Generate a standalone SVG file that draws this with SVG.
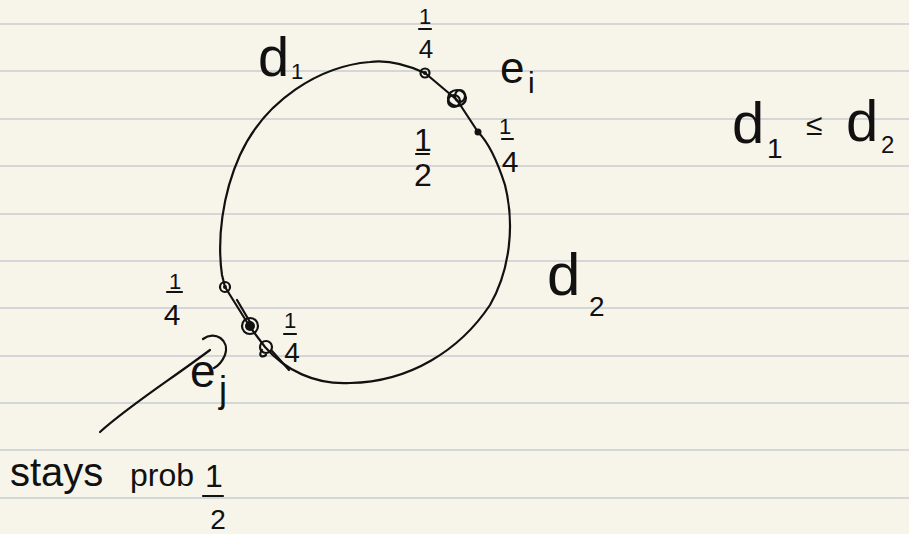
<svg xmlns="http://www.w3.org/2000/svg" width="909" height="534" viewBox="0 0 909 534">
<style>
.rule{stroke:#d4d6d8;stroke-width:2}
.ink{fill:none;stroke:#111;stroke-width:2.2;stroke-linecap:round;stroke-linejoin:round}
.t{font-family:"Liberation Sans","DejaVu Sans",sans-serif;fill:#111}
.c{text-anchor:middle}
</style>
<rect width="909" height="534" fill="#f7f5ea"/>
<g id="ruling">
<line class="rule" x1="0" y1="24" x2="909" y2="24"/>
<line class="rule" x1="0" y1="71" x2="909" y2="71"/>
<line class="rule" x1="0" y1="119" x2="909" y2="119"/>
<line class="rule" x1="0" y1="166" x2="909" y2="166"/>
<line class="rule" x1="0" y1="214" x2="909" y2="214"/>
<line class="rule" x1="0" y1="261" x2="909" y2="261"/>
<line class="rule" x1="0" y1="308" x2="909" y2="308"/>
<line class="rule" x1="0" y1="356" x2="909" y2="356"/>
<line class="rule" x1="0" y1="403" x2="909" y2="403"/>
<line class="rule" x1="0" y1="450" x2="909" y2="450"/>
<line class="rule" x1="0" y1="498" x2="909" y2="498"/>
</g>
<g id="loop">
<path class="ink" d="M425,73 C405,64 385,60 370,62 C320,66 265,100 240,155 C222,195 217,240 222,275 L225,287 L250,327 L265,347 C285,370 315,385 350,383 C410,382 460,350 490,305 C510,270 515,225 505,185 C497,160 488,142 478,132 L457,100 L425,73"/>
<path class="ink" d="M237,300 L250,322 M272,351 L289,370"/>
</g>
<g id="knots">
<circle cx="425" cy="73" r="4.5" class="ink"/>
<circle cx="425" cy="73" r="2" fill="#111"/>
<circle cx="478" cy="132" r="3.5" fill="#111"/>
<ellipse cx="457" cy="98" rx="9" ry="8" class="ink"/>
<ellipse cx="454" cy="101" rx="6" ry="6" class="ink"/>
<ellipse cx="460" cy="96" rx="5" ry="6" class="ink"/>
<circle cx="225" cy="287" r="5" class="ink"/>
<circle cx="225" cy="287" r="2" fill="#111"/>
<ellipse cx="250" cy="326" rx="8" ry="8" class="ink"/>
<circle cx="250" cy="326" r="5" fill="#111"/>
<ellipse cx="266" cy="347" rx="6" ry="6" class="ink"/>
<path class="ink" d="M262,350 C258,356 262,358 266,355"/>
</g>
<g id="label-d1">
<text class="t" x="258" y="76" font-size="56">d</text>
<text class="t" x="291" y="79" font-size="22">1</text>
</g>
<g id="label-ei">
<text class="t" x="500" y="83" font-size="44">e</text>
<text class="t" x="528" y="93" font-size="30">i</text>
</g>
<g id="frac-top">
<text class="t c" x="425" y="24" font-size="22">1</text>
<line class="ink" x1="419" y1="29" x2="431" y2="29"/>
<text class="t c" x="426" y="58" font-size="26">4</text>
</g>
<g id="frac-half">
<text class="t c" x="423" y="151" font-size="32">1</text>
<line class="ink" x1="416" y1="154" x2="429" y2="154"/>
<text class="t c" x="423" y="186" font-size="32">2</text>
</g>
<g id="frac-right">
<text class="t c" x="505" y="134" font-size="22">1</text>
<line class="ink" x1="502" y1="139" x2="513" y2="139"/>
<text class="t c" x="510" y="172" font-size="30">4</text>
</g>
<g id="frac-left">
<text class="t c" x="175" y="289" font-size="22">1</text>
<line class="ink" x1="167" y1="292" x2="182" y2="292"/>
<text class="t c" x="172" y="325" font-size="30">4</text>
</g>
<g id="frac-bottom">
<text class="t c" x="290" y="328" font-size="22">1</text>
<line class="ink" x1="284" y1="334" x2="296" y2="334"/>
<text class="t c" x="292" y="362" font-size="28">4</text>
</g>
<g id="label-d2">
<text class="t" x="547" y="295" font-size="60">d</text>
<text class="t" x="589" y="316" font-size="28">2</text>
</g>
<g id="label-ej">
<path class="ink" d="M203,339 C215,330 230,340 225,355 C222,362 218,366 214,368"/>
<text class="t" x="190" y="387" font-size="46">e</text>
<text class="t" x="219" y="402" font-size="36">j</text>
</g>
<g id="pointer">
<path class="ink" d="M100,432 C130,405 170,380 210,350"/>
</g>
<g id="note">
<text class="t" x="10" y="486" font-size="40">stays</text>
<text class="t" x="130" y="486" font-size="32">prob</text>
<text class="t c" x="214" y="487" font-size="32">1</text>
<line class="ink" x1="203" y1="496" x2="223" y2="496"/>
<text class="t c" x="218" y="529" font-size="28">2</text>
</g>
<g id="inequality">
<text class="t" x="732" y="143" font-size="58">d</text>
<text class="t" x="767" y="158" font-size="28">1</text>
<text class="t" x="806" y="135" font-size="30">≤</text>
<text class="t" x="846" y="141" font-size="58">d</text>
<text class="t" x="881" y="153" font-size="24">2</text>
</g>
</svg>
